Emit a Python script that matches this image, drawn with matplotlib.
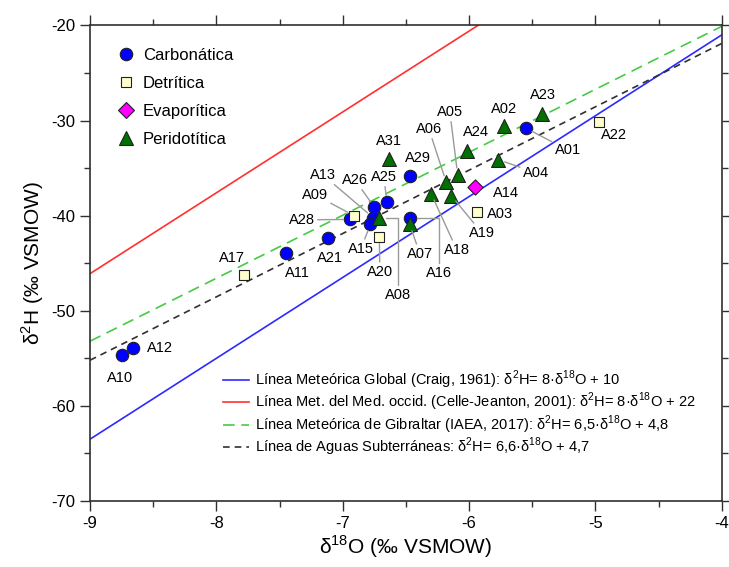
import numpy as np
import matplotlib
matplotlib.use("Agg")
import matplotlib.pyplot as plt
from matplotlib.lines import Line2D
from matplotlib.ticker import MultipleLocator

plt.rcParams['font.family'] = ['Liberation Sans', 'DejaVu Sans']
plt.rcParams['mathtext.fontset'] = 'custom'
plt.rcParams['mathtext.rm'] = 'Liberation Sans'
plt.rcParams['axes.unicode_minus'] = False

########################### DATOS
muestras = ["A01", "A02", "A03", "A04", "A05", "A06", "A07", "A08", "A09", "A10",
            "A11", "A12", "A13", "A14", "A15", "A16", "A17", "A18", "A19", "A20",
            "A21", "A22", "A23", "A24", "A25", "A26", "A28", "A29", "A31"]
d18O = [-5.55, -5.72, -5.94, -5.77, -6.09, -6.18, -6.47, -6.71, -6.91, -8.75,
        -7.45, -8.66, -6.76, -5.95, -6.78, -6.47, -7.78, -6.30, -6.14, -6.71,
        -7.12, -4.97, -5.42, -6.02, -6.65, -6.75, -6.94, -6.47, -6.63]
d2H = [-30.8, -30.6, -39.6, -34.1, -35.7, -36.5, -40.9, -40.2, -40.0, -54.7,
       -43.9, -53.9, -40.2, -37.0, -40.9, -40.2, -46.2, -37.7, -37.9, -42.2,
       -42.3, -30.2, -29.3, -33.2, -38.6, -39.1, -40.4, -35.8, -34.0]
litologia = ["C", "P", "D", "P", "P", "P", "P", "P", "D", "C",
             "C", "C", "C", "E", "C", "C", "D", "P", "P", "D",
             "C", "D", "P", "P", "C", "C", "C", "C", "P"]

# rectas de referencia (extremos x=-9 y x=-4 tal como aparecen en la figura)
x_rectas = [-9, -4]
lmg = [-63.5, -21.0]       # Craig 1961
lmmo = [-46.1, -3.6]       # Celle-Jeanton 2001
lmgib = [-53.2, -20.1]     # IAEA 2017
las = [-55.2, -21.9]       # aguas subterraneas

########################### POSICION DE ETIQUETAS
etiq_x = [-5.22, -5.725, -5.756, -5.472, -6.152, -6.318, -6.389, -6.563, -7.22, -8.763,
          -7.362, -8.446, -7.157, -5.709, -6.856, -6.239, -7.877, -6.097, -5.899, -6.706,
          -7.101, -4.854, -5.416, -5.946, -6.674, -6.903, -7.323, -6.405, -6.634]
etiq_y = [-33.09, -28.78, -39.81, -35.5, -29.1, -30.88, -44.01, -48.32, -37.81, -57.04,
          -46.0, -53.89, -35.71, -37.6, -43.49, -46.0, -44.43, -43.59, -41.81, -45.9,
          -44.43, -31.51, -27.31, -31.2, -35.92, -36.24, -40.44, -33.93, -32.14]
guia = ["l", None, None, "l", "l", "l", "l", "a", "l", None,
        None, None, "l", None, "l", "a", None, "l", "l", "l",
        None, None, None, None, "l", "l", "l", None, None]

estilos = {
    "C": dict(label="Carbonática", marker="o", color="#0000ff", s=80),
    "D": dict(label="Detrítica", marker="s", color="#ffffcc", s=60),
    "E": dict(label="Evaporítica", marker="D", color="#ff00ff", s=60),
    "P": dict(label="Peridotítica", marker="^", color="#007000", s=100),
}

fig, ax = plt.subplots(figsize=(7.29, 5.67), dpi=100)
fig.subplots_adjust(left=0.1235, right=0.990, bottom=0.1164, top=0.9552)

# rectas
l1, = ax.plot(x_rectas, lmg, color="#2b2bff", lw=1.2)
l2, = ax.plot(x_rectas, lmmo, color="#ff3030", lw=1.2)
l3, = ax.plot(x_rectas, lmgib, color="#44cc44", lw=1.2, dashes=(7, 4))
l4, = ax.plot(x_rectas, las, color="#303030", lw=1.2, dashes=(4, 3))

# puntos
d18O = np.array(d18O)
d2H = np.array(d2H)
litologia = np.array(litologia)
handles = []
for k in ["C", "D", "E", "P"]:
    st = estilos[k]
    m = litologia == k
    ax.scatter(d18O[m], d2H[m], marker=st["marker"], s=st["s"], c=st["color"],
               edgecolors="#202020", linewidths=0.8, zorder=3)
    handles.append(Line2D([], [], ls="none", marker=st["marker"],
                          markersize=np.sqrt(st["s"]), markerfacecolor=st["color"],
                          markeredgecolor="#202020", markeredgewidth=0.8,
                          label=st["label"]))

# etiquetas
for name, px, py, tx, ty, g in zip(muestras, d18O, d2H, etiq_x, etiq_y, guia):
    if g is None:
        ax.text(tx, ty, name, ha="center", va="center", fontsize=10.5, zorder=4)
    else:
        cs = "arc3" if g == "l" else "angle,angleA=90,angleB=0,rad=0"
        ax.annotate(name, xy=(px, py), xytext=(tx, ty), ha="center", va="center",
                    fontsize=10.5, zorder=4,
                    arrowprops=dict(arrowstyle="-", color="#9a9a9a", lw=1.0,
                                    shrinkA=0, shrinkB=5, connectionstyle=cs))

ax.set_xlim(-9, -4)
ax.set_ylim(-70, -20)
ax.xaxis.set_major_locator(MultipleLocator(1))
ax.xaxis.set_minor_locator(MultipleLocator(0.5))
ax.yaxis.set_major_locator(MultipleLocator(10))
ax.yaxis.set_minor_locator(MultipleLocator(5))
ax.tick_params(which="both", direction="out", top=True, right=True,
               labelsize=12, color="#303030", width=1.0)
ax.tick_params(which="major", length=7)
ax.tick_params(which="minor", length=4)
for sp in ax.spines.values():
    sp.set_color("#303030")
    sp.set_linewidth(1.2)

ax.set_xlabel("δ$^{18}$O (‰ VSMOW)", fontsize=15, labelpad=2)
ax.set_ylabel("δ$^{2}$H (‰ VSMOW)", fontsize=15, labelpad=4)

leg1 = ax.legend(handles=handles, loc="upper left", bbox_to_anchor=(0.02, 0.985),
                 frameon=False, fontsize=12, handletextpad=0.5, labelspacing=0.78,
                 handlelength=1.0)
ax.add_artist(leg1)
ax.legend([l1, l2, l3, l4],
          ["Línea Meteórica Global (Craig, 1961): δ$^{2}$H= 8·δ$^{18}$O + 10",
           "Línea Met. del Med. occid. (Celle-Jeanton, 2001): δ$^{2}$H= 8·δ$^{18}$O + 22",
           "Línea Meteórica de Gibraltar (IAEA, 2017): δ$^{2}$H= 6,5·δ$^{18}$O + 4,8",
           "Línea de Aguas Subterráneas: δ$^{2}$H= 6,6·δ$^{18}$O + 4,7"],
          loc="center left", bbox_to_anchor=(0.19, 0.184), frameon=False, fontsize=10.5,
          handlelength=1.8, handletextpad=0.4, labelspacing=0.0)

fig.savefig("out.png", dpi=100)
